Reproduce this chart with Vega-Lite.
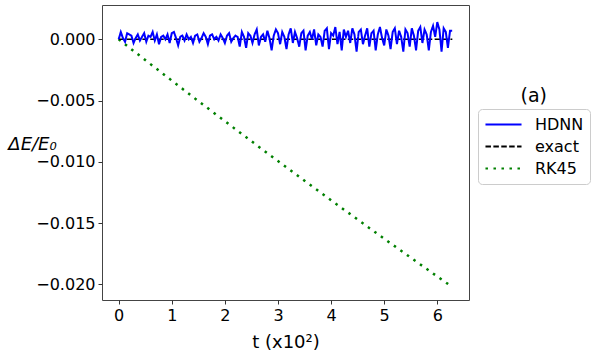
{
  "$schema": "https://vega.github.io/schema/vega-lite/v6.json",
  "width": 367,
  "height": 295,
  "autosize": {"type": "none"},
  "padding": {"left": 102, "top": 5, "right": 126, "bottom": 51},
  "background": "white",
  "title": {"text": "(a)", "anchor": "end", "frame": "group", "orient": "top", "fontSize": 19, "font": "DejaVu Sans", "fontWeight": "normal", "color": "#000", "baseline": "middle", "offset": 0, "dx": 78, "dy": 110},
  "datasets": {
    "hdnn": [
      {"t":0,"e":0},{"t":0.04,"e":0.0006},{"t":0.08,"e":0.0001},{"t":0.12,"e":-0.0002},{"t":0.16,"e":0.0005},{"t":0.2,"e":0.0004},{"t":0.24,"e":0.0003},{"t":0.28,"e":-0.0003},{"t":0.32,"e":0.0001},{"t":0.36,"e":0.0004},
      {"t":0.4,"e":-0.0001},{"t":0.44,"e":0.0002},{"t":0.48,"e":0.0005},{"t":0.52,"e":-0.0002},{"t":0.56,"e":0.0003},{"t":0.6,"e":0.0002},{"t":0.64,"e":0.0006},{"t":0.68,"e":-0.0001},{"t":0.72,"e":0.0004},{"t":0.76,"e":-0.0004},
      {"t":0.8,"e":0.0002},{"t":0.84,"e":0.0003},{"t":0.88,"e":0},{"t":0.92,"e":0.0004},{"t":0.96,"e":-0.0003},{"t":1.0,"e":0.0005},{"t":1.04,"e":0.0006},{"t":1.08,"e":0.0001},{"t":1.12,"e":-0.0005},{"t":1.16,"e":0.0002},
      {"t":1.2,"e":0.0003},{"t":1.24,"e":-0.0001},{"t":1.28,"e":0.0004},{"t":1.32,"e":0},{"t":1.36,"e":0.0002},{"t":1.4,"e":-0.0003},{"t":1.44,"e":0.0003},{"t":1.48,"e":0.0004},{"t":1.52,"e":-0.0002},{"t":1.56,"e":0.0001},
      {"t":1.6,"e":0.0005},{"t":1.64,"e":0.0002},{"t":1.68,"e":-0.0004},{"t":1.72,"e":0.0003},{"t":1.76,"e":0.0004},{"t":1.8,"e":0},{"t":1.84,"e":0.0002},{"t":1.88,"e":-0.0001},{"t":1.92,"e":0.0004},{"t":1.96,"e":0.0001},
      {"t":2.0,"e":-0.0003},{"t":2.04,"e":0.0003},{"t":2.08,"e":0.0005},{"t":2.12,"e":-0.0002},{"t":2.16,"e":0.0001},{"t":2.2,"e":0.0003},{"t":2.24,"e":0.0002},{"t":2.28,"e":-0.0006},{"t":2.32,"e":0.0006},{"t":2.36,"e":0.0002},
      {"t":2.4,"e":-0.0007},{"t":2.44,"e":0.0005},{"t":2.48,"e":0.0003},{"t":2.52,"e":-0.0003},{"t":2.56,"e":0.0004},{"t":2.6,"e":0.0008},{"t":2.64,"e":-0.0005},{"t":2.68,"e":0.0002},{"t":2.72,"e":0.0004},{"t":2.76,"e":-0.0002},
      {"t":2.8,"e":0.0007},{"t":2.84,"e":0.0001},{"t":2.88,"e":-0.0009},{"t":2.92,"e":0.0003},{"t":2.96,"e":0.0008},{"t":3.0,"e":0.0005},{"t":3.04,"e":-0.0004},{"t":3.08,"e":0.0006},{"t":3.12,"e":0.0002},{"t":3.16,"e":-0.0008},
      {"t":3.2,"e":0.0004},{"t":3.24,"e":0.0009},{"t":3.28,"e":-0.0003},{"t":3.32,"e":0.0006},{"t":3.36,"e":0.0001},{"t":3.4,"e":-0.0006},{"t":3.44,"e":0.0005},{"t":3.48,"e":0.0007},{"t":3.52,"e":-0.0009},{"t":3.56,"e":0.0003},
      {"t":3.6,"e":0.0006},{"t":3.64,"e":0},{"t":3.68,"e":0.0008},{"t":3.72,"e":-0.0005},{"t":3.76,"e":0.0004},{"t":3.8,"e":0.0002},{"t":3.84,"e":-0.0006},{"t":3.88,"e":0.0007},{"t":3.92,"e":0.0009},{"t":3.96,"e":-0.0008},
      {"t":4.0,"e":0.0005},{"t":4.04,"e":0.0003},{"t":4.08,"e":0.001},{"t":4.12,"e":-0.0004},{"t":4.16,"e":0.0006},{"t":4.2,"e":-0.0009},{"t":4.24,"e":0.0008},{"t":4.28,"e":0.0002},{"t":4.32,"e":0.0007},{"t":4.36,"e":-0.0003},
      {"t":4.4,"e":0.0009},{"t":4.44,"e":0.0004},{"t":4.48,"e":-0.001},{"t":4.52,"e":0.0006},{"t":4.56,"e":0.0008},{"t":4.6,"e":-0.0004},{"t":4.64,"e":0.0003},{"t":4.68,"e":0.0009},{"t":4.72,"e":-0.0006},{"t":4.76,"e":0.0005},
      {"t":4.8,"e":0.0007},{"t":4.84,"e":-0.0009},{"t":4.88,"e":0.0004},{"t":4.92,"e":0.001},{"t":4.96,"e":0.0001},{"t":5.0,"e":-0.0005},{"t":5.04,"e":0.0008},{"t":5.08,"e":0.0003},{"t":5.12,"e":-0.0008},{"t":5.16,"e":0.0006},
      {"t":5.2,"e":0.0009},{"t":5.24,"e":-0.0004},{"t":5.28,"e":0.0007},{"t":5.32,"e":0.0002},{"t":5.36,"e":-0.001},{"t":5.4,"e":0.0008},{"t":5.44,"e":0.0005},{"t":5.48,"e":-0.0006},{"t":5.52,"e":0.0009},{"t":5.56,"e":0.0003},
      {"t":5.6,"e":-0.0009},{"t":5.64,"e":0.0007},{"t":5.68,"e":0.001},{"t":5.72,"e":-0.0003},{"t":5.76,"e":0.0008},{"t":5.8,"e":0.0004},{"t":5.84,"e":-0.0009},{"t":5.88,"e":0.0006},{"t":5.92,"e":0.0011},{"t":5.96,"e":0.0002},
      {"t":6.0,"e":0.0014},{"t":6.04,"e":0.0008},{"t":6.08,"e":-0.001},{"t":6.12,"e":0.0009},{"t":6.16,"e":0.0006},{"t":6.2,"e":-0.0007},{"t":6.24,"e":0.0007},{"t":6.28,"e":0.0007}
    ],
    "exact": [{"t":0,"e":0},{"t":6.283,"e":0}],
    "rk45": [
      {"t":0,"e":0},{"t":0.5,"e":-0.00169},{"t":1,"e":-0.00337},{"t":1.5,"e":-0.00504},{"t":2,"e":-0.00668},{"t":2.5,"e":-0.00832},{"t":3,"e":-0.00994},
      {"t":3.5,"e":-0.01155},{"t":4,"e":-0.01314},{"t":4.5,"e":-0.01471},{"t":5,"e":-0.01628},{"t":5.5,"e":-0.01782},{"t":6,"e":-0.01936},{"t":6.283,"e":-0.02022}
    ]
  },
  "encoding": {
    "x": {"field": "t", "type": "quantitative", "scale": {"domain": [-0.314, 6.597], "nice": false, "zero": false},
      "axis": {"values": [0,1,2,3,4,5,6], "format": "d", "title": "t (x10²)", "titleFontSize": 18, "titlePadding": 10}},
    "y": {"field": "e", "type": "quantitative", "scale": {"domain": [-0.02128, 0.0028], "nice": false, "zero": false},
      "axis": {"values": [0,-0.005,-0.01,-0.015,-0.02], "format": ".3f", "title": "ΔE/E₀", "titleFontSize": 18, "titleFontStyle": "italic", "titleAngle": 0, "titleAlign": "center", "titleBaseline": "middle", "titleX": -70, "titleY": 139}},
    "color": {"type": "nominal", "scale": {"domain": ["HDNN","exact","RK45"], "range": ["#0000ff","#000000","#008000"]}, "legend": {"title": null}},
    "strokeDash": {"type": "nominal", "scale": {"domain": ["HDNN","exact","RK45"], "range": [[1,0],[5.5,2.4],[2.5,5.5]]}, "legend": {"title": null}}
  },
  "layer": [
    {"data": {"name": "rk45"}, "mark": {"type": "line", "strokeWidth": 2.5, "clip": true}, "encoding": {"color": {"datum": "RK45"}, "strokeDash": {"datum": "RK45"}}},
    {"data": {"name": "exact"}, "mark": {"type": "line", "strokeWidth": 1.6, "clip": true}, "encoding": {"color": {"datum": "exact"}, "strokeDash": {"datum": "exact"}}},
    {"data": {"name": "hdnn"}, "mark": {"type": "line", "strokeWidth": 2, "clip": true}, "encoding": {"color": {"datum": "HDNN"}, "strokeDash": {"datum": "HDNN"}}}
  ],
  "config": {
    "font": "DejaVu Sans",
    "view": {"stroke": "#444444", "strokeWidth": 1},
    "axis": {"domain": false, "grid": false, "labelFont": "DejaVu Sans", "labelFontSize": 16, "labelColor": "#000", "tickColor": "#333", "tickSize": 4, "labelPadding": 3, "titleFont": "DejaVu Sans", "titleFontWeight": "normal", "titleColor": "#000"},
    "legend": {"orient": "none", "legendX": 376, "legendY": 104, "padding": 6, "strokeColor": "#cccccc", "fillColor": "white", "cornerRadius": 4, "labelFont": "DejaVu Sans", "labelFontSize": 16, "labelColor": "#000", "labelOffset": 12, "symbolType": "stroke", "symbolSize": 1300, "symbolStrokeWidth": 2, "clipHeight": 19, "rowPadding": 3}
  }
}
